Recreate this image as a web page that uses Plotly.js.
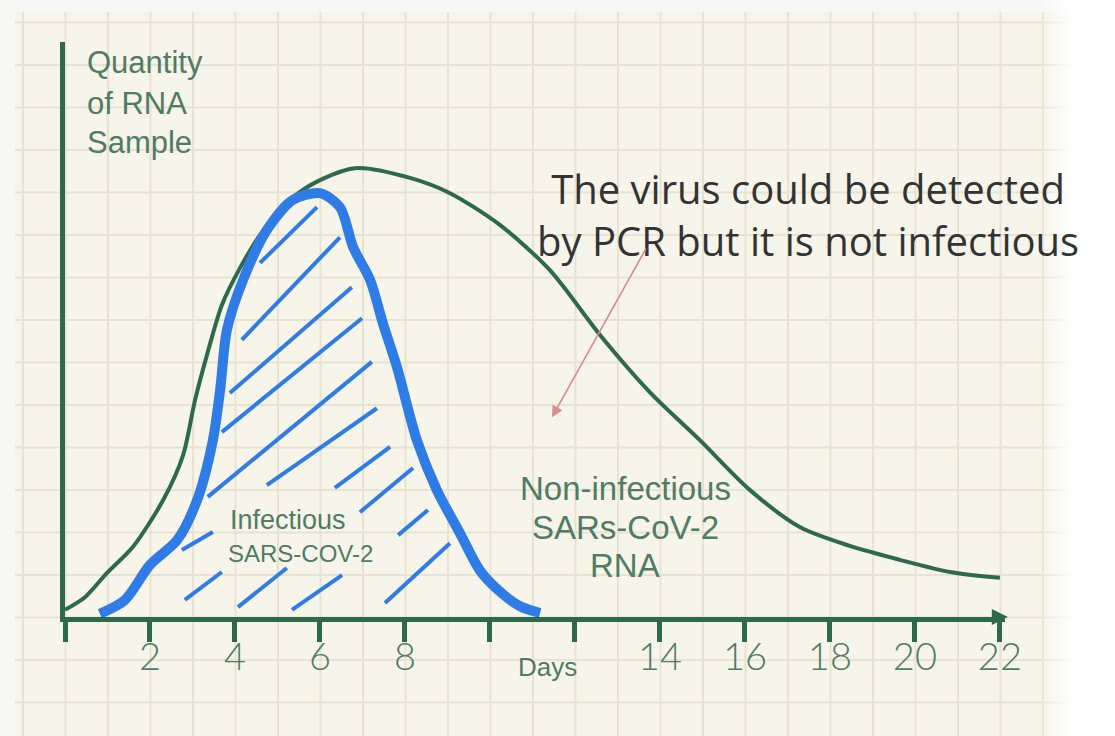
<!DOCTYPE html>
<html>
<head>
<meta charset="utf-8">
<script src="https://cdn.plot.ly/plotly-3.0.1.min.js"></script>
<style>
  html, body { margin: 0; padding: 0; background: #f7f7f5; }
  #paper {
    position: absolute; left: 15px; top: 12px; width: 1055px; height: 724px;
    background-color: #f7f4e9;
    background-image:
      linear-gradient(to right, #e8e3d1 1.5px, transparent 1.5px),
      linear-gradient(to bottom, #e8e3d1 1.5px, transparent 1.5px);
    background-size: 42.5px 42.5px;
    background-position: 7px 9.5px;
  }
  #fade {
    position: absolute; left: 1040px; top: 0; width: 75px; height: 736px;
    background: linear-gradient(to right, rgba(255,255,255,0), #ffffff 45%);
  }
  #chart { position: absolute; left: 0; top: 0; width: 1115px; height: 736px; }
</style>
</head>
<body>
<div id="paper"></div>
<div id="fade"></div>
<div id="chart"></div>
<script>
// Total RNA detected (green curve), days vs relative quantity
const rnaDays  = [0, 0.47, 0.99, 1.6, 2.31, 2.78, 3.06, 3.34, 3.69, 4.12, 4.64, 5.29, 6.0, 6.87, 8.12, 9.06, 10.24, 11.41, 12.59, 13.76, 14.94, 16.12, 17.29, 18.47, 19.65, 20.82, 22];
const rnaQty   = [1.6, 4.4, 9.8, 15.6, 26, 36, 48.2, 58.2, 69.3, 77.6, 85.6, 92.7, 97.1, 99.8, 97.6, 94.2, 87.1, 77.1, 62.7, 50, 39.3, 28.2, 20, 15.8, 12.7, 10, 8.7];

// Infectious virus (blue curve)
const infDays  = [0.82, 1.41, 2.0, 2.64, 3.11, 3.48, 3.65, 3.81, 4.19, 4.75, 5.36, 6.0, 6.47, 6.78, 7.18, 7.48, 7.81, 8.28, 8.75, 9.29, 9.76, 10.24, 10.71, 11.18];
const infQty   = [0.7, 3.8, 11.6, 17.1, 26, 39.3, 50.4, 63.8, 74.9, 86, 92.7, 94.2, 91.1, 82.2, 74.9, 65.3, 55.6, 39.3, 28.2, 18.7, 10.4, 5.6, 2.4, 0.9];

// Hand-drawn hatch strokes inside the infectious area (start/end points)
const hatchX0 = [4.59, 4.16, 3.88, 3.69, 3.36, 4.75, 6.35, 6.94, 7.84, 7.53, 2.75, 2.82, 4.07, 5.34];
const hatchY0 = [78.7, 61.6, 49.8, 41.1, 26.7, 29.3, 28.7, 23.3, 18.2, 3.1, 14.9, 3.8, 2.2, 1.6];
const hatchX1 = [5.93, 6.47, 6.75, 6.99, 7.22, 7.34, 7.65, 8.19, 8.54, 9.06, 3.48, 3.69, 5.22, 6.52];
const hatchY1 = [91.1, 84.4, 73.3, 66.4, 56.7, 46.4, 37.8, 33.1, 23.8, 16.4, 18.9, 10.0, 10.9, 9.3];

// Axis ticks
const tickDays   = [0, 2, 4, 6, 8, 10, 12, 14, 16, 18, 20, 22];
const tickLabels = ['', '2', '4', '6', '8', '', '', '14', '16', '18', '20', '22'];

// Arrow (tail -> head) in data units
const arrowTail = [13.69, 82.2];
const arrowHead = [11.46, 44.4];

const hx = [], hy = [];
for (let i = 0; i < hatchX0.length; i++) {
  hx.push(hatchX0[i], hatchX1[i], null);
  hy.push(hatchY0[i], hatchY1[i], null);
}

const GREEN = '#2d6a4b';
const BLUE = '#2f7ce6';
const TEXTG = '#4f7c62';
const SANS = 'Liberation Sans, Arial, sans-serif';

// pixel helpers for text placement (layout only)
const px = v => (v - 65) / 940;
const py = v => (617 - v) / 575;

function label(text, x, y, size, anchor, color, family) {
  return { xref: 'paper', yref: 'paper', x: px(x), y: py(y), xanchor: anchor || 'left', yanchor: 'middle',
           text: text, showarrow: false, font: { family: family || SANS, size: size, color: color || TEXTG } };
}

const traces = [
  { x: hx, y: hy, mode: 'lines', line: { color: BLUE, width: 4 }, hoverinfo: 'skip', showlegend: false },
  { x: rnaDays, y: rnaQty, mode: 'lines', line: { color: GREEN, width: 4, shape: 'spline', smoothing: 0.8 }, showlegend: false },
  { x: infDays, y: infQty, mode: 'lines', line: { color: BLUE, width: 10, shape: 'spline', smoothing: 0.8 }, showlegend: false }
];

const layout = {
  width: 1115, height: 736,
  margin: { l: 65, r: 110, t: 42, b: 119 },
  paper_bgcolor: 'rgba(0,0,0,0)',
  plot_bgcolor: 'rgba(0,0,0,0)',
  showlegend: false,
  xaxis: {
    range: [0, 22.12], showgrid: false, zeroline: false,
    showline: true, linecolor: GREEN, linewidth: 5,
    tickmode: 'array', tickvals: tickDays, ticktext: tickLabels,
    ticks: 'outside', ticklen: 20, tickwidth: 5, tickcolor: GREEN,
    ticklabelstandoff: -18,
    tickfont: { family: 'Lato, sans-serif', weight: 300, size: 38, color: TEXTG }
  },
  yaxis: {
    range: [0, 127.8], showgrid: false, zeroline: false,
    showline: true, linecolor: GREEN, linewidth: 5,
    showticklabels: false, ticks: ''
  },
  annotations: [
    label('Quantity', 85, 63, 31),
    label('of RNA', 85, 103, 31),
    label('Sample', 85, 143, 31),
    { xref: 'paper', yref: 'paper', x: px(808), y: py(214), xanchor: 'center', yanchor: 'middle', align: 'center',
      text: 'The virus could be detected<br>by PCR but it is not infectious', showarrow: false,
      font: { family: 'Open Sans, sans-serif', size: 40, color: '#333333' } },
    label('Infectious', 228, 520, 27),
    label('SARS-COV-2', 226, 553, 24),
    label('Non-infectious', 625, 488, 33, 'center'),
    label('SARs-CoV-2', 625, 527, 33, 'center'),
    label('RNA', 625, 565, 33, 'center'),
    label('Days', 547, 667, 26, 'center'),
    { xref: 'x', yref: 'y', axref: 'x', ayref: 'y',
      x: arrowHead[0], y: arrowHead[1], ax: arrowTail[0], ay: arrowTail[1],
      standoff: 0, startstandoff: 0, font: { size: 1 },
      showarrow: true, arrowhead: 2, arrowsize: 1.4, arrowwidth: 1.6, arrowcolor: '#d68c8e', text: '' },
    { xref: 'paper', yref: 'paper', x: 1.003, y: 0, ax: -14, ay: 0,
      showarrow: true, arrowhead: 2, arrowsize: 0.8, arrowwidth: 4, arrowcolor: GREEN, text: '' }
  ]
};

Plotly.newPlot('chart', traces, layout, { displayModeBar: false, staticPlot: true });
</script>
</body>
</html>
